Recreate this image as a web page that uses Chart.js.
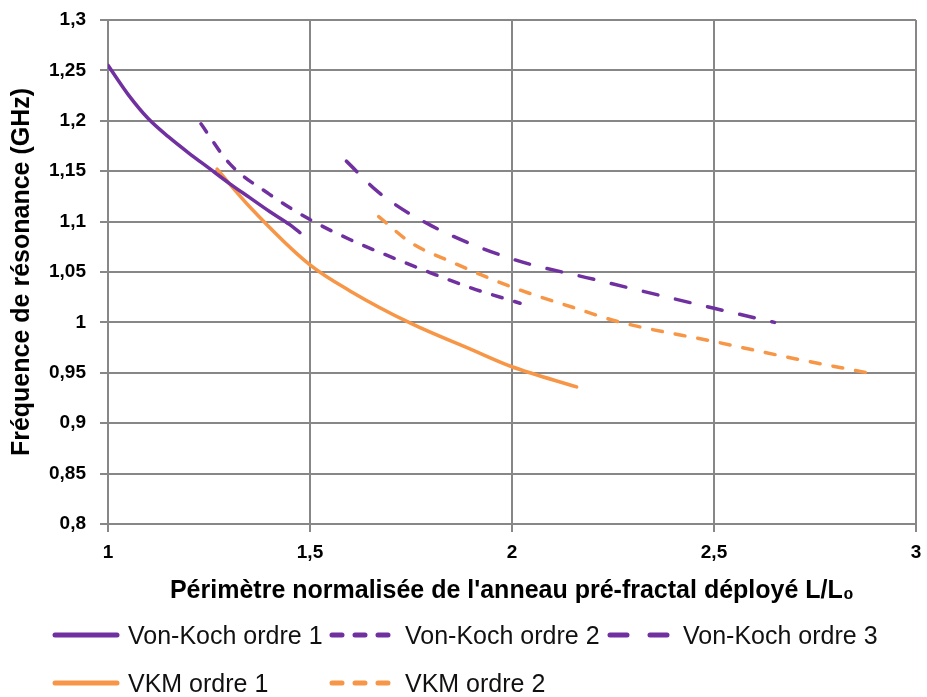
<!DOCTYPE html>
<html>
<head>
<meta charset="utf-8">
<script src="https://cdn.jsdelivr.net/npm/chart.js@4"></script>
<style>
body { margin: 0; background: #fff; }
#wrap { position: relative; width: 927px; height: 697px; }
#legend { position: absolute; left: 0; top: 0; width: 927px; height: 697px; pointer-events: none;
  font-family: 'Liberation Sans', Arial, sans-serif; font-size: 25px; color: #111; }
.item { position: absolute; height: 30px; display: flex; align-items: center; white-space: nowrap; }
.item svg { margin-right: 8px; }
</style>
</head>
<body>
<div id="wrap">
  <canvas id="myChart" width="927" height="697"></canvas>
  <div id="legend"></div>
</div>
<script>
// valeurs (L/L0 -> frequence en GHz)
const vk1X = [1, 1.05, 1.1, 1.15, 1.2, 1.25, 1.3, 1.35, 1.4, 1.45, 1.475]
const vk1Y = [1.255, 1.226, 1.202, 1.184, 1.168, 1.153, 1.138, 1.124, 1.11, 1.097, 1.089]

const vk2X = [1.23, 1.3, 1.4, 1.5, 1.6, 1.7, 1.8, 1.9, 2.02]
const vk2Y = [1.197, 1.158, 1.127, 1.102, 1.082, 1.065, 1.049, 1.034, 1.019]

const vk3X = [1.59, 1.67, 1.8, 2.0, 2.2, 2.5, 2.65]
const vk3Y = [1.16, 1.129, 1.096, 1.063, 1.043, 1.014, 1.0]

const vkm1X = [1.27, 1.35, 1.5, 1.6, 1.75, 1.9, 2.0, 2.16]
const vkm1Y = [1.152, 1.115, 1.057, 1.031, 0.999, 0.973, 0.956, 0.936]

const vkm2X = [1.67, 1.75, 1.85, 2.0, 2.15, 2.27, 2.5, 2.7, 2.88]
const vkm2Y = [1.105, 1.079, 1.06, 1.035, 1.015, 1.0, 0.981, 0.964, 0.95]

const seriesNames = ['Von-Koch ordre 1', 'Von-Koch ordre 2', 'Von-Koch ordre 3', 'VKM ordre 1', 'VKM ordre 2']

const xTicks = [1, 1.5, 2, 2.5, 3]
const yMin = 0.8, yMax = 1.3, yStep = 0.05

const violet = '#7030A0'
const orange = '#F79646'
const gridColor = '#878787'
const fontFam = "'Liberation Sans', Arial, sans-serif"

function pts(xs, ys) {
    return xs.map((x, i) => ({ x: x, y: ys[i] }))
}
function virgule(v) {
    return String(Math.round(v * 100) / 100).replace('.', ',')
}

const styles = [
    { color: violet, dash: [] },
    { color: violet, dash: [10, 13] },
    { color: violet, dash: [15, 18] },
    { color: orange, dash: [] },
    { color: orange, dash: [10, 13] }
]
const valeurs = [[vk1X, vk1Y], [vk2X, vk2Y], [vk3X, vk3Y], [vkm1X, vkm1Y], [vkm2X, vkm2Y]]

const data = {
    datasets: valeurs.map((v, i) => ({
        label: seriesNames[i],
        data: pts(v[0], v[1]),
        borderColor: styles[i].color,
        borderDash: styles[i].dash,
        borderCapStyle: 'round',
        borderWidth: 3.5,
        pointRadius: 0,
        cubicInterpolationMode: 'monotone',
        fill: false
    }))
}

const ctx = document.getElementById('myChart').getContext('2d')

const config = {
    type: 'line',
    data,
    options: {
        responsive: false,
        animation: false,
        layout: { padding: { top: 20, right: 11, bottom: 70, left: 0 } },
        plugins: { legend: { display: false }, tooltip: { enabled: false } },
        scales: {
            x: {
                type: 'linear',
                min: 1, max: 3,
                afterFit: s => { s.height = 103; s.paddingLeft = 0; s.paddingRight = 0 },
                afterBuildTicks: s => { s.ticks = xTicks.map(v => ({ value: v })) },
                grid: { color: gridColor, lineWidth: 2, tickLength: 8 },
                border: { color: gridColor, width: 2 },
                ticks: { color: '#000', padding: 9, font: { family: fontFam, size: 19, weight: 'bold' }, callback: v => virgule(v) },
                title: { display: true, text: "Périmètre normalisée de l'anneau pré-fractal déployé L/L₀", color: '#000',
                         font: { family: fontFam, size: 25, weight: 'bold' }, padding: { top: 0, bottom: 21 } }
            },
            y: {
                min: yMin, max: yMax,
                afterFit: s => { s.width = 108; s.paddingTop = 0; s.paddingBottom = 0 },
                grid: { color: gridColor, lineWidth: 2, tickLength: 8 },
                border: { color: gridColor, width: 2 },
                ticks: { stepSize: yStep, color: '#000', padding: 14, font: { family: fontFam, size: 19, weight: 'bold' }, callback: v => virgule(v) },
                title: { display: true, text: 'Fréquence de résonance (GHz)', color: '#000',
                         font: { family: fontFam, size: 25, weight: 'bold' }, padding: { top: 7, bottom: 0 } }
            }
        }
    }
}

const myChart = new Chart(ctx, config)

// legende HTML en colonnes, comme dans la figure
const legendPos = [[55, 620], [332, 620], [610, 620], [55, 668], [332, 668]]
const legend = document.getElementById('legend')
seriesNames.forEach((name, i) => {
    const st = styles[i]
    let dashAttr = ''
    if (i === 1 || i === 4) dashAttr = 'stroke-dasharray="10 13"'
    if (i === 2) dashAttr = 'stroke-dasharray="17 23"'
    const div = document.createElement('div')
    div.className = 'item'
    div.style.left = (legendPos[i][0] - 3) + 'px'
    div.style.top = legendPos[i][1] + 'px'
    div.innerHTML = '<svg width="68" height="10"><line x1="3" y1="5" x2="65" y2="5" stroke="' + st.color +
        '" stroke-width="5" stroke-linecap="round" ' + dashAttr + '/></svg><span>' + name + '</span>'
    legend.appendChild(div)
})
</script>
</body>
</html>
